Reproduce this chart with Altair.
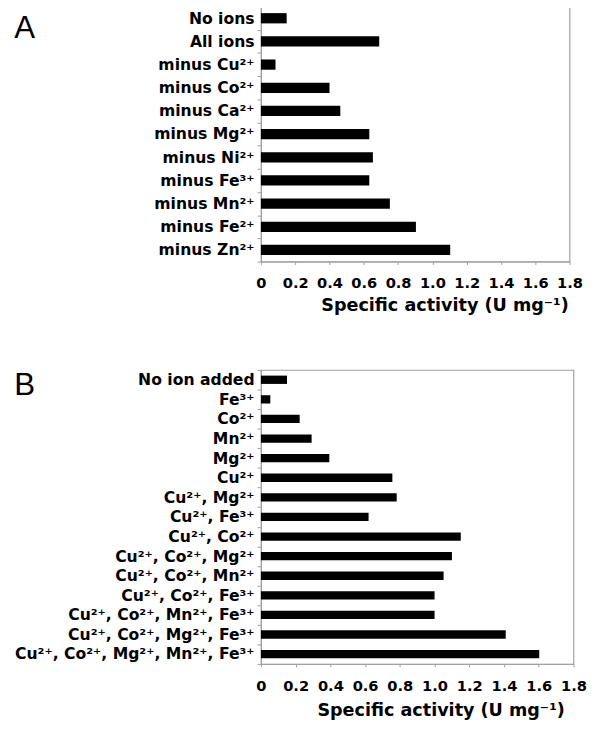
import altair as alt
import pandas as pd

a_labels = ["No ions", "All ions", "minus Cu²⁺", "minus Co²⁺", "minus Ca²⁺",
            "minus Mg²⁺", "minus Ni²⁺", "minus Fe³⁺", "minus Mn²⁺",
            "minus Fe²⁺", "minus Zn²⁺"]
a_values = [0.15, 0.69, 0.085, 0.40, 0.463, 0.632, 0.653, 0.632, 0.752, 0.904, 1.104]

b_labels = ["No ion added", "Fe³⁺", "Co²⁺", "Mn²⁺", "Mg²⁺", "Cu²⁺",
            "Cu²⁺, Mg²⁺", "Cu²⁺, Fe³⁺", "Cu²⁺, Co²⁺", "Cu²⁺, Co²⁺, Mg²⁺",
            "Cu²⁺, Co²⁺, Mn²⁺", "Cu²⁺, Co²⁺, Fe³⁺", "Cu²⁺, Co²⁺, Mn²⁺, Fe³⁺",
            "Cu²⁺, Co²⁺, Mg²⁺, Fe³⁺", "Cu²⁺, Co²⁺, Mg²⁺, Mn²⁺, Fe³⁺"]
b_values = [0.15, 0.054, 0.223, 0.292, 0.394, 0.757, 0.782, 0.62, 1.151, 1.10,
            1.052, 1.0, 1.0, 1.41, 1.603]

x_ticks = [0, 0.2, 0.4, 0.6, 0.8, 1.0, 1.2, 1.4, 1.6, 1.8]
x_title = "Specific activity (U mg⁻¹)"

GRAY = "#a0a0a0"
FONT = "DejaVu Sans"


def panel(labels, values, letter, w, h, bar_size, title_x, title_y, letter_x, letter_y):
    df = pd.DataFrame({"label": labels, "value": values})
    bars = alt.Chart(df).mark_bar(color="black", size=bar_size).encode(
        x=alt.X("value:Q",
                scale=alt.Scale(domain=[0, 1.8], nice=False, zero=True),
                axis=alt.Axis(values=x_ticks, title=x_title, labelOverlap=False,
                              labelFlush=False,
                              labelExpr="datum.value == 0 ? '0' : format(datum.value, '.1f')",
                              labelFont=FONT, labelFontWeight="bold", labelFontSize=15,
                              labelColor="black", labelBaseline="alphabetic",
                              labelPadding=24, tickSize=3, tickColor=GRAY,
                              domainColor=GRAY, grid=False,
                              titleFont=FONT, titleFontWeight="bold", titleFontSize=18,
                              titleColor="black", titleX=title_x, titleY=title_y,
                              titleAlign="center", titleBaseline="alphabetic")),
        y=alt.Y("label:N", sort=labels,
                scale=alt.Scale(paddingInner=0, paddingOuter=0),
                axis=alt.Axis(title=letter, titleFont="Liberation Sans",
                              titleFontWeight="normal", titleFontSize=32,
                              titleColor="black", titleAngle=0, titleAlign="left",
                              titleBaseline="top", titleX=letter_x, titleY=letter_y,
                              labelFont=FONT, labelFontWeight="bold",
                              labelFontSize=16, labelColor="black", labelPadding=3,
                              tickBand="extent", tickSize=4, tickColor=GRAY,
                              domainColor=GRAY, labelLimit=400)),
    )
    return bars.properties(width=w, height=h)


chartA = panel(a_labels, a_values, "A", 316, 261, 10.5, 188, 50, -253, 7)
chartB = panel(b_labels, b_values, "B", 320, 301, 8.5, 184, 53, -253, 0)

chart = alt.vconcat(chartA, chartB, spacing=47).properties(
    padding={"left": 5, "top": -19, "right": 5, "bottom": 0}
).configure_view(stroke=GRAY, strokeWidth=1.2)

chart.save("out.html", embed_options={"renderer": "svg", "actions": False})
